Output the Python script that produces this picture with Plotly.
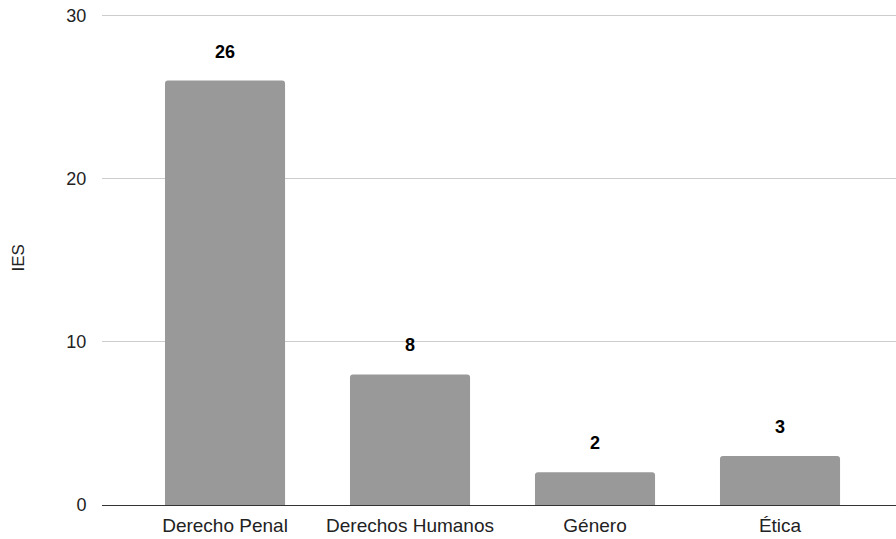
import plotly.graph_objects as go

categories = ["Derecho Penal", "Derechos Humanos", "Género", "Ética"]
values = [26, 8, 2, 3]
y_ticks = [0, 10, 20, 30]

FONT = "Liberation Sans, Arial, sans-serif"

fig = go.Figure()
fig.add_trace(go.Bar(
    x=list(range(len(categories))),
    y=values,
    width=0.649,
    marker=dict(color="#999999", line=dict(width=0)),
    hoverinfo="skip",
))

for i, v in enumerate(values):
    fig.add_annotation(
        x=i, y=v, xref="x", yref="y",
        text=f"<b>{v}</b>", showarrow=False,
        yanchor="middle", yshift=29,
        font=dict(family=FONT, size=18, color="#000000"),
    )

fig.add_annotation(
    x=0, y=0.5, xref="paper", yref="paper",
    text="IES", showarrow=False, textangle=-90,
    xshift=-84, xanchor="center", yanchor="middle",
    font=dict(family=FONT, size=17, color="#222222"),
)

fig.update_layout(
    width=896, height=539,
    margin=dict(l=102, r=0, t=12, b=34, autoexpand=False),
    paper_bgcolor="white", plot_bgcolor="white",
    showlegend=False,
    barcornerradius=3,
    xaxis=dict(
        range=[-0.665, 3.627],
        tickmode="array",
        tickvals=list(range(len(categories))),
        ticktext=categories,
        showgrid=False, zeroline=False,
        showline=True, linecolor="#333333", linewidth=1,
        ticks="", ticklen=0,
        ticklabelstandoff=3,
        tickfont=dict(family=FONT, size=19, color="#222222"),
        automargin=False,
    ),
    yaxis=dict(
        range=[0, 30.2],
        tickmode="array",
        tickvals=y_ticks,
        showgrid=True, gridcolor="#cccccc", gridwidth=1,
        zeroline=False, showline=False,
        ticks="outside", ticklen=11, tickcolor="rgba(0,0,0,0)",
        tickfont=dict(family=FONT, size=18, color="#222222"),
        ticklabeloverflow="allow",
        automargin=False,
    ),
)

fig.write_html(
    "out.html",
    config={"displayModeBar": False},
    post_script="document.body.style.margin='0';document.body.style.overflow='hidden';",
)
